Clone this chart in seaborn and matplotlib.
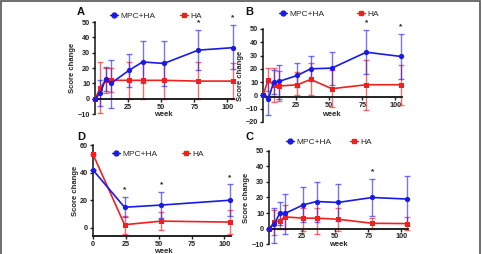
import numpy as np
import pandas as pd
import matplotlib
matplotlib.use("Agg")
import matplotlib.pyplot as plt
import seaborn as sns
from matplotlib.lines import Line2D
from matplotlib.patches import Rectangle

# ===================== data =====================
weeks = [0, 4, 8, 12, 26, 36, 52, 78, 104]
weeks_d = [0, 24, 52, 104]

a_mpc = [0, 3.5, 12.8, 10, 18.7, 24, 23, 31.7, 33.3]
a_mpc_hi = [0, 12, 21, 25, 29.5, 37.8, 37.8, 45, 47.8]
a_mpc_lo = [0, -5, 5, -6, 7.4, 10.4, 8.3, 18.7, 19.3]
a_ha = [0, 7, 12, 12, 12, 12, 12, 11.5, 11.5]
a_ha_hi = [0, 24, 20, 20, 24, 24, 24, 24, 23.5]
a_ha_lo = [0, -9.5, 4, 4.3, 0, 0, 0, 0, 0]
a_stars = [78, 104]

b_mpc = [0, -3, 10, 10.5, 15, 20, 20.5, 32.5, 29.3]
b_mpc_hi = [0, 11, 19, 22.5, 24, 29.3, 32.5, 49.5, 46.5]
b_mpc_lo = [0, -15, 1, -3, 6, 10.5, 7.5, 16.3, 12.5]
b_ha = [0, 11.8, 7.5, 7, 8, 12, 5, 8, 8]
b_ha_hi = [0, 20.5, 20.5, 18, 17.5, 24, 19, 27, 22.5]
b_ha_lo = [0, 3, -5, -4, 0, 0, -8.5, -11, -7.5]
b_stars = [78, 104]

c_mpc = [0, 2.8, 9.7, 9.7, 15.3, 17.4, 16.8, 20, 19]
c_mpc_hi = [0, 13.5, 17.4, 22, 26.5, 30, 28.6, 32, 34]
c_mpc_lo = [0, -9, 2, -3.6, 3.9, 4, 5, 8, 2]
c_ha = [0, 3.9, 5, 7.5, 6.7, 6.7, 6, 3.4, 3.2]
c_ha_hi = [0, 12, 9.7, 15.3, 13, 13.5, 13, 7, 7.7]
c_ha_lo = [0, -4, 0, 0, -1.5, -3.6, -1.5, 0, -1]
c_stars = [78]

d_mpc = [42, 14.9, 16.5, 20]
d_mpc_hi = [42, 22.5, 26, 31.6]
d_mpc_lo = [42, 8, 7, 8.4]
d_ha = [53.5, 2.2, 4.8, 4.1]
d_ha_hi = [53.5, 8.4, 11.5, 12.7]
d_ha_lo = [53.5, -4.3, -1.7, -4.8]
d_stars = [24, 52, 104]

BLUE = "#1a1ae6"
RED = "#f02020"

# ===================== style =====================
sns.set_style("ticks")
plt.rcParams["font.family"] = ["Liberation Sans", "DejaVu Sans"]
plt.rcParams["font.weight"] = "bold"

fig = plt.figure(figsize=(4.82, 2.54), dpi=100)


def draw_panel(ax, wk, mpc, mpc_hi, mpc_lo, ha, ha_hi, ha_lo, stars,
               ylim, yticks, xzero_label, spine_y, label_xy):
    df = pd.DataFrame({
        "week": list(wk) * 2,
        "score": list(mpc) + list(ha),
        "group": ["MPC+HA"] * len(wk) + ["HA"] * len(wk),
    })
    mpc_arr = np.array(mpc)
    ha_arr = np.array(ha)
    # error bars (light)
    ax.errorbar(wk, ha_arr, yerr=[ha_arr - np.array(ha_lo), np.array(ha_hi) - ha_arr],
                fmt="none", ecolor=RED, alpha=0.65, elinewidth=1.0, capsize=2.3,
                capthick=1.0, clip_on=False, zorder=2)
    ax.errorbar(wk, mpc_arr, yerr=[mpc_arr - np.array(mpc_lo), np.array(mpc_hi) - mpc_arr],
                fmt="none", ecolor=BLUE, alpha=0.6, elinewidth=1.0, capsize=2.3,
                capthick=1.0, clip_on=False, zorder=2)
    sns.lineplot(data=df[df.group == "HA"], x="week", y="score", color=RED,
                 marker="s", markersize=3.6, markeredgewidth=0, linewidth=1.2,
                 ax=ax, legend=False, zorder=3, clip_on=False)
    sns.lineplot(data=df[df.group == "MPC+HA"], x="week", y="score", color=BLUE,
                 marker="o", markersize=3.8, markeredgewidth=0, linewidth=1.2,
                 ax=ax, legend=False, zorder=4, clip_on=False)
    for s in stars:
        i = list(wk).index(s)
        ax.text(s, mpc_hi[i] + 2.5, "*", ha="center", va="bottom",
                fontsize=6, color="#222222", clip_on=False)
    ax.set_xlim(0, 105)
    ax.set_ylim(*ylim)
    ax.set_yticks(yticks)
    xt = [0, 25, 50, 75, 100] if xzero_label else [25, 50, 75, 100]
    ax.set_xticks(xt)
    ax.tick_params(labelsize=5.2, width=1.0, length=2.5, pad=1, colors="#222222")
    for lab in ax.get_xticklabels() + ax.get_yticklabels():
        lab.set_fontweight("bold")
    ax.spines["top"].set_visible(False)
    ax.spines["right"].set_visible(False)
    ax.spines["left"].set_linewidth(1.1)
    ax.spines["bottom"].set_linewidth(1.3)
    ax.spines["bottom"].set_position(("data", spine_y))
    ax.spines["left"].set_color("#111111")
    ax.spines["bottom"].set_color("#111111")
    ax.set_xlabel("week", fontsize=5.5, fontweight="bold", va="center")
    ax.xaxis.set_label_coords(label_xy[0] / 482, 1 - label_xy[1] / 254,
                              transform=fig.transFigure)
    ax.set_ylabel("Score change", fontsize=5.5, fontweight="bold", labelpad=1)
    ax.patch.set_alpha(0)


def add_legend(ax, x, y, colsp):
    handles = [
        Line2D([], [], color=BLUE, marker="o", markersize=3.5, lw=1.0),
        Line2D([], [], color=RED, marker="s", markersize=3.5, lw=1.0),
    ]
    ax.legend(handles, ["MPC+HA", "HA"], loc="center left",
              bbox_to_anchor=(x / 482, 1 - y / 254), bbox_transform=fig.transFigure,
              ncol=2, frameon=False, handlelength=0.9,
              handletextpad=0.3, columnspacing=colsp, borderaxespad=0,
              borderpad=0, prop={"size": 6, "weight": "normal"})


# A
ax_a = fig.add_axes([95 / 482, 0.551, 139 / 482, 0.362])
draw_panel(ax_a, weeks, a_mpc, a_mpc_hi, a_mpc_lo, a_ha, a_ha_hi, a_ha_lo,
           a_stars, (-10, 50), range(-10, 51, 10), False, 0, (163, 114))
add_legend(ax_a, 110, 16, 3.0)

# B
ax_b = fig.add_axes([263 / 482, 0.520, 139 / 482, 0.366])
draw_panel(ax_b, weeks, b_mpc, b_mpc_hi, b_mpc_lo, b_ha, b_ha_hi, b_ha_lo,
           b_stars, (-20, 50), range(-20, 51, 10), False, -1, (331, 115))
add_legend(ax_b, 279, 14, 4.0)

# D
ax_d = fig.add_axes([93 / 482, 0.071, 138 / 482, 0.357])
draw_panel(ax_d, weeks_d, d_mpc, d_mpc_hi, d_mpc_lo, d_ha, d_ha_hi, d_ha_lo,
           d_stars, (-6, 60), [0, 20, 40, 60], True, -6, (163, 251.5))
add_legend(ax_d, 112, 154, 3.0)

# C
ax_c = fig.add_axes([269 / 482, 0.039, 139 / 482, 0.367])
draw_panel(ax_c, weeks, c_mpc, c_mpc_hi, c_mpc_lo, c_ha, c_ha_hi, c_ha_lo,
           c_stars, (-10, 50), range(-10, 51, 10), False, 0, (338, 245))
add_legend(ax_c, 286, 142, 2.3)

# panel letters
for letter, x, y in [("A", 77, 12), ("B", 245, 12), ("D", 77, 137), ("C", 245, 137)]:
    fig.text(x / 482, 1 - y / 254, letter, fontsize=8, fontweight="bold",
             ha="left", va="center", color="#111111")

# outer frame
fig.patches.append(Rectangle((0.003, -0.05), 0.993, 1.046, transform=fig.transFigure,
                             fill=False, edgecolor="#555555", linewidth=1.2))

fig.savefig("out.png", dpi=100)
